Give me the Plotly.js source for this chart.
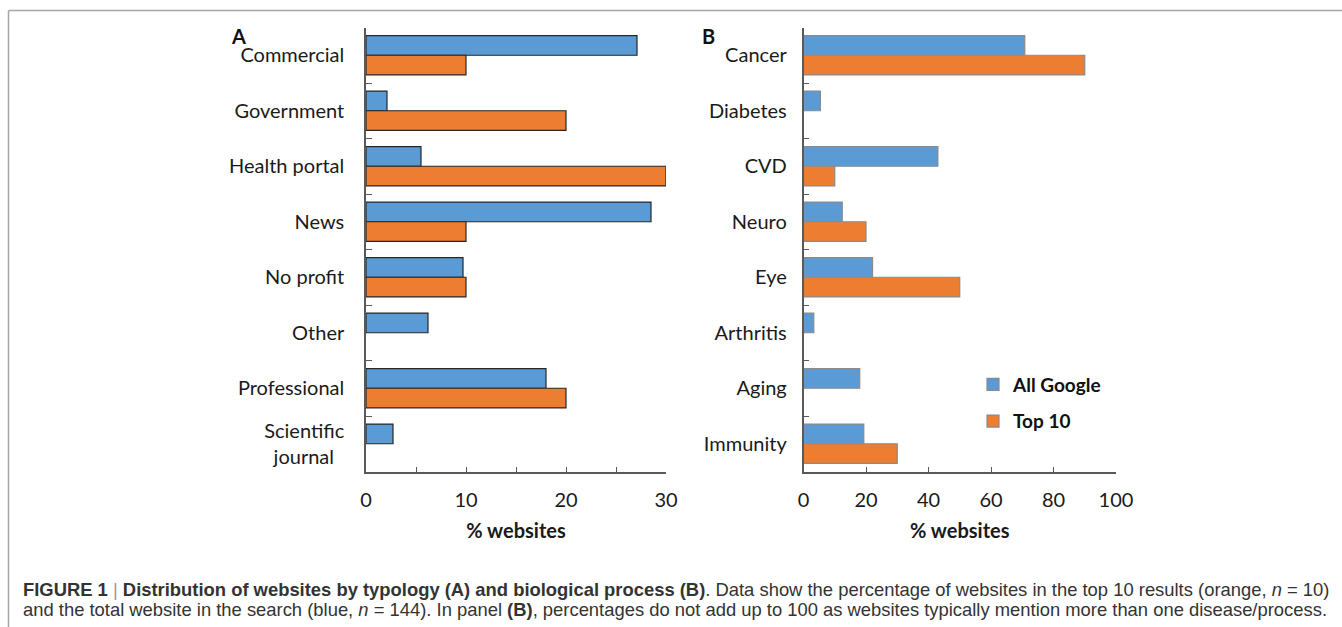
<!DOCTYPE html>
<html><head><meta charset="utf-8">
<script src="https://cdn.plot.ly/plotly-3.0.1.min.js"></script>
<style>html,body{margin:0;padding:0;background:#fff;}#chart{width:1342px;height:627px;}</style>
</head><body><div id="chart"></div>
<script>
// ---- data ----
const typologyCategories = ['Commercial','Government','Health portal','News','No profit','Other','Professional','Scientific journal'];
const typologyTickLabels = ['Commercial','Government','Health portal','News','No profit','Other','Professional','Scientific<br>journal\u00a0\u00a0'];
const typologyAllGoogle = [27.1, 2.1, 5.5, 28.5, 9.7, 6.2, 18.0, 2.7];
const typologyTop10     = [10, 20, 30, 10, 10, 0, 20, 0];
const processCategories = ['Cancer','Diabetes','CVD','Neuro','Eye','Arthritis','Aging','Immunity'];
const processAllGoogle  = [70.8, 5.4, 43.0, 12.4, 22.1, 3.3, 18.0, 19.3];
const processTop10      = [90, 0, 10, 20, 50, 0, 0, 30];
const seriesNames = ['All Google', 'Top 10'];
const axisTitle = '% websites';
const panelLabels = ['A', 'B'];
const captionLine1 = '<b>FIGURE 1</b> <span style="color:#9a9a9a">|</span> <b>Distribution of websites by typology (A) and biological process (B)</b>. Data show the percentage of websites in the top 10 results (orange, <i>n</i> = 10)';
const captionLine2 = 'and the total website in the search (blue, <i>n</i> = 144). In panel <b>(B)</b>, percentages do not add up to 100 as websites typically mention more than one disease/process.';

// ---- styling ----
const W = 1342, H = 627;
const fx = p => p / W, fy = p => 1 - p / H;
const BLUE = '#5B9BD5', ORANGE = '#ED7D31', AXIS = '#595959';
const FONT = 'Lato, "Open Sans", sans-serif';
const CAPFONT = '"Liberation Sans Narrow", "Liberation Sans", Arial, sans-serif';
const tickFont = {family: FONT, size: 20, color: '#1a1a1a'};
const titleFont = {family: FONT, size: 20, color: '#1a1a1a', weight: 'bold'};

function bar(x, y, name, color, lineColor, xa, ya, show) {
  return {type: 'bar', orientation: 'h', x: x, y: y, name: name,
    xaxis: xa, yaxis: ya, legendgroup: name, showlegend: show,
    marker: {color: color, line: {color: lineColor, width: x.map(v => v > 0 ? 1.2 : 0)}},
    hoverinfo: 'x+y+name'};
}
const data = [
  bar(typologyAllGoogle, typologyCategories, seriesNames[0], BLUE, '#262626', 'x', 'y', false),
  bar(typologyTop10, typologyCategories, seriesNames[1], ORANGE, '#262626', 'x', 'y', false),
  bar(processAllGoogle, processCategories, seriesNames[0], BLUE, '#8a8a8a', 'x2', 'y2', true),
  bar(processTop10, processCategories, seriesNames[1], ORANGE, '#8a8a8a', 'x2', 'y2', true)
];

function xAxis(domain, range, dtick, minor, anchor) {
  const a = {domain: domain, range: range, tick0: 0, dtick: dtick, anchor: anchor,
    ticks: 'inside', ticklen: 5, tickwidth: 1.3, tickcolor: AXIS,
    showline: true, linecolor: AXIS, linewidth: 1.5, showgrid: false, zeroline: false,
    tickfont: tickFont, ticklabelstandoff: 10, fixedrange: true,
    title: {text: axisTitle, font: titleFont, standoff: 14}};
  if (minor) a.minor = {dtick: minor, ticks: 'inside', ticklen: 5, tickwidth: 1.3, tickcolor: AXIS, showgrid: false};
  return a;
}
function yAxis(anchor, labels, cats, standoff) {
  return {domain: [fy(471.5), fy(27.5)], type: 'category', autorange: 'reversed', anchor: anchor,
    tickmode: 'array', tickvals: cats, ticktext: labels,
    ticks: 'inside', tickson: 'boundaries', ticklen: 6, tickwidth: 1.3, tickcolor: AXIS,
    showline: true, linecolor: AXIS, linewidth: 1.5, showgrid: false, zeroline: false,
    tickfont: tickFont, ticklabelstandoff: standoff, fixedrange: true};
}

const layout = {
  width: W, height: H, autosize: false,
  margin: {l: 0, r: 0, t: 0, b: 0},
  paper_bgcolor: '#fff', plot_bgcolor: 'rgba(0,0,0,0)',
  barmode: 'group', bargap: 0.29, bargroupgap: 0,
  xaxis: xAxis([fx(366), fx(666)], [0, 30], 10, 5, 'y'),
  yaxis: yAxis('x', typologyTickLabels, typologyCategories, 16),
  xaxis2: xAxis([fx(803.5), fx(1116)], [0, 100], 20, null, 'y2'),
  yaxis2: yAxis('x2', processCategories, processCategories, 11),
  showlegend: true,
  legend: {x: fx(973), y: fy(365.5), xanchor: 'left', yanchor: 'top',
    traceorder: 'grouped', tracegroupgap: 9, bgcolor: 'rgba(0,0,0,0)',
    font: {family: FONT, size: 19, color: '#111', weight: 'bold'}},
  annotations: [
    {text: '<b>' + panelLabels[0] + '</b>', x: fx(238), y: fy(36), xref: 'paper', yref: 'paper',
      showarrow: false, xanchor: 'center', yanchor: 'middle', font: {family: FONT, size: 20, color: '#111'}},
    {text: '<b>' + panelLabels[1] + '</b>', x: fx(708), y: fy(36), xref: 'paper', yref: 'paper',
      showarrow: false, xanchor: 'center', yanchor: 'middle', font: {family: FONT, size: 20, color: '#111'}},
    {text: captionLine1, x: fx(21), y: fy(589.5), xref: 'paper', yref: 'paper', showarrow: false,
      xanchor: 'left', yanchor: 'middle', align: 'left',
      font: {family: CAPFONT, size: 18.4, color: '#333'}},
    {text: captionLine2, x: fx(21), y: fy(609.5), xref: 'paper', yref: 'paper', showarrow: false,
      xanchor: 'left', yanchor: 'middle', align: 'left',
      font: {family: CAPFONT, size: 18.4, color: '#333'}}
  ],
  shapes: [
    {type: 'line', xref: 'paper', yref: 'paper', x0: fx(8.5), x1: 1, y0: fy(10.5), y1: fy(10.5),
      line: {color: '#a6a6a6', width: 1.5}},
    {type: 'line', xref: 'paper', yref: 'paper', x0: fx(8.5), x1: fx(8.5), y0: fy(10.5), y1: 0,
      line: {color: '#a6a6a6', width: 1.5}}
  ]
};

Plotly.newPlot('chart', data, layout, {displayModeBar: false, responsive: false});
</script>
</body></html>
